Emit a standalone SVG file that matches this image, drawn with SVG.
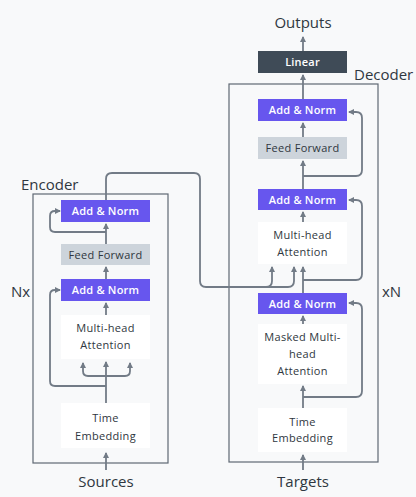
<svg xmlns="http://www.w3.org/2000/svg" width="416" height="497" viewBox="0 0 416 497">
<defs>
<style>
.lbl{font-family:"Open Sans","Noto Sans",sans-serif;font-size:15px;fill:#2f3740}
.t{font-family:"Open Sans","Noto Sans",sans-serif;font-size:11px;letter-spacing:0.3px;fill:#2f3740;text-anchor:middle}
.tw{font-family:"Open Sans","Noto Sans",sans-serif;font-size:11px;letter-spacing:0.2px;fill:#ffffff;text-anchor:middle;font-weight:600}
.an{fill:#6756ee}
.ff{fill:#cdd4db}
.wb{fill:#ffffff}
.lin{fill:#3f4b57}
.box{fill:none;stroke:#5f6873;stroke-width:1.2}
.c{fill:none;stroke:#727b86;stroke-width:1.8}
</style>
<marker id="ah" viewBox="0 0 6 6" refX="5" refY="3" markerWidth="6" markerHeight="6" orient="auto" markerUnits="userSpaceOnUse"><path d="M0,0 L6,3 L0,6 z" fill="#727b86"/></marker>
</defs>
<rect width="416" height="497" fill="#f8f9fa"/>

<g id="encoder">
<rect class="box" x="33" y="194" width="135" height="269"/>
<text class="lbl" x="21" y="190">Encoder</text>
<text class="lbl" x="11" y="297">Nx</text>
</g>
<g id="enc-addnorm1"><rect class="an" x="61" y="200" width="89" height="22"/><text class="tw" x="105.5" y="215">Add &amp; Norm</text></g>
<g id="enc-ff"><rect class="ff" x="61" y="244" width="89" height="21"/><text class="t" x="105.5" y="258.5">Feed Forward</text></g>
<g id="enc-addnorm2"><rect class="an" x="61" y="279" width="89" height="22"/><text class="tw" x="105.5" y="294">Add &amp; Norm</text></g>
<g id="enc-mha"><rect class="wb" x="61" y="315" width="89" height="44"/><text class="t" x="105.5" y="332">Multi-head</text><text class="t" x="105.5" y="349">Attention</text></g>
<g id="enc-te"><rect class="wb" x="61" y="403" width="89" height="45"/><text class="t" x="105.5" y="422">Time</text><text class="t" x="105.5" y="440">Embedding</text></g>
<g id="sources"><text class="lbl" x="106" y="487" text-anchor="middle">Sources</text></g>

<g id="decoder">
<rect class="box" x="229" y="84" width="149" height="378"/>
<text class="lbl" x="354" y="80">Decoder</text>
<text class="lbl" x="382" y="297">xN</text>
</g>
<g id="outputs"><text class="lbl" x="303" y="28" text-anchor="middle">Outputs</text></g>
<g id="linear"><rect class="lin" x="258" y="51" width="89" height="22"/><text class="tw" x="302.5" y="66">Linear</text></g>
<g id="dec-addnorm1"><rect class="an" x="258" y="99" width="89" height="22"/><text class="tw" x="302.5" y="114">Add &amp; Norm</text></g>
<g id="dec-ff"><rect class="ff" x="258" y="137" width="89" height="22"/><text class="t" x="302.5" y="152">Feed Forward</text></g>
<g id="dec-addnorm2"><rect class="an" x="258" y="189" width="89" height="21"/><text class="tw" x="302.5" y="203.5">Add &amp; Norm</text></g>
<g id="dec-mha"><rect class="wb" x="258" y="222" width="89" height="42"/><text class="t" x="302.5" y="238.5">Multi-head</text><text class="t" x="302.5" y="255.5">Attention</text></g>
<g id="dec-addnorm3"><rect class="an" x="258" y="293" width="89" height="21"/><text class="tw" x="302.5" y="307.5">Add &amp; Norm</text></g>
<g id="dec-mmha"><rect class="wb" x="258" y="324" width="89" height="60"/><text class="t" x="302.5" y="340.5">Masked Multi-</text><text class="t" x="302.5" y="357.5">head</text><text class="t" x="302.5" y="374.5">Attention</text></g>
<g id="dec-te"><rect class="wb" x="258" y="408" width="89" height="44"/><text class="t" x="302.5" y="425.5">Time</text><text class="t" x="302.5" y="441.5">Embedding</text></g>
<g id="targets"><text class="lbl" x="303" y="487" text-anchor="middle">Targets</text></g>

<g id="connectors">
<path class="c" d="M106,470 V453" marker-end="url(#ah)"/>
<path class="c" d="M106,403 V362" marker-end="url(#ah)"/>
<path class="c" d="M106,376 H88 Q83,376 83,371 V363" marker-end="url(#ah)"/>
<path class="c" d="M106,376 H125 Q130,376 130,371 V363" marker-end="url(#ah)"/>
<path class="c" d="M106,386 H55 Q50,386 50,381 V295 Q50,290 55,290 H60" marker-end="url(#ah)"/>
<path class="c" d="M106,315 V303" marker-end="url(#ah)"/>
<path class="c" d="M106,279 V267" marker-end="url(#ah)"/>
<path class="c" d="M106,244 V224" marker-end="url(#ah)"/>
<path class="c" d="M106,232 H55 Q50,232 50,227 V216 Q50,211 55,211 H60" marker-end="url(#ah)"/>
<path class="c" d="M106,200 V179 Q106,173 112,173 H194 Q200,173 200,179 V281 Q200,287 206,287 H266 Q272,287 272,281 V267" marker-end="url(#ah)"/>
<path class="c" d="M266,287 H288 Q294,287 294,281 V267" marker-end="url(#ah)"/>

<path class="c" d="M303,470 V455" marker-end="url(#ah)"/>
<path class="c" d="M303,408 V386" marker-end="url(#ah)"/>
<path class="c" d="M303,397 H356 Q362,397 362,391 V309 Q362,303 356,303 H349" marker-end="url(#ah)"/>
<path class="c" d="M303,324 V316" marker-end="url(#ah)"/>
<path class="c" d="M303,293 V267" marker-end="url(#ah)"/>
<path class="c" d="M303,280 H356 Q362,280 362,274 V206 Q362,200 356,200 H349" marker-end="url(#ah)"/>
<path class="c" d="M303,222 V212" marker-end="url(#ah)"/>
<path class="c" d="M303,189 V161" marker-end="url(#ah)"/>
<path class="c" d="M303,176 H356 Q362,176 362,170 V118 Q362,112 356,112 H349" marker-end="url(#ah)"/>
<path class="c" d="M303,137 V123" marker-end="url(#ah)"/>
<path class="c" d="M303,99 V75" marker-end="url(#ah)"/>
<path class="c" d="M303,51 V37" marker-end="url(#ah)"/>
</g>
</svg>
